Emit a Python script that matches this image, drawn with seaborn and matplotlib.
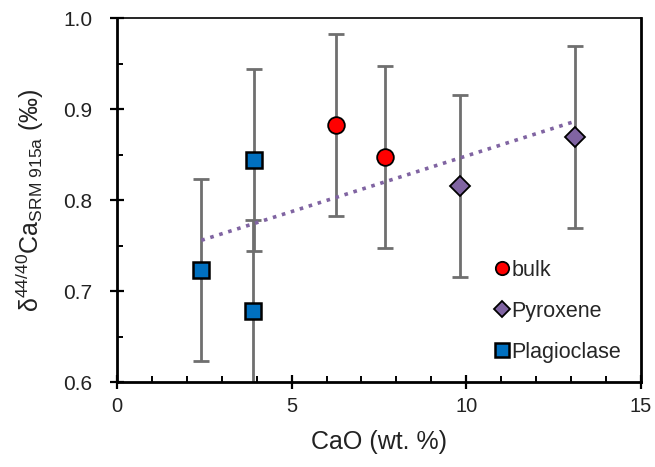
import numpy as np
import pandas as pd
import matplotlib
matplotlib.use('Agg')
import matplotlib.pyplot as plt
from matplotlib.ticker import MultipleLocator, FormatStrFormatter
import seaborn as sns

# δ44/40Ca data
bulk_cao = [6.28, 7.67]
bulk_d44 = [0.883, 0.847]
pyx_cao = [9.83, 13.13]
pyx_d44 = [0.816, 0.869]
plag_cao = [2.41, 3.92, 3.88]
plag_d44 = [0.723, 0.844, 0.678]
err = 0.1  # 2SD

sns.set_theme(style='white')
plt.rcParams['font.family'] = ['Liberation Sans', 'DejaVu Sans']
plt.rcParams['mathtext.fontset'] = 'custom'
plt.rcParams['mathtext.rm'] = 'Liberation Sans'
plt.rcParams['mathtext.it'] = 'Liberation Sans:italic'
plt.rcParams['mathtext.bf'] = 'Liberation Sans:bold'

fig = plt.figure(figsize=(6.55, 4.67), dpi=100)
ax = fig.add_axes([0.179, 0.182, 0.799, 0.779])

df = pd.DataFrame({
    'CaO': bulk_cao + pyx_cao + plag_cao,
    'd44': bulk_d44 + pyx_d44 + plag_d44,
})

# trend line over all points
sns.regplot(data=df, x='CaO', y='d44', ax=ax, scatter=False, ci=None, truncate=True,
            line_kws=dict(color='#8064a2', ls=(0, (1, 1.6)), lw=2.6, zorder=2))

ax.errorbar(df['CaO'], df['d44'], yerr=err, fmt='none', ecolor='#6f6f6f',
            elinewidth=2, capsize=5.5, capthick=2, zorder=1)

ax.plot(bulk_cao, bulk_d44, 'o', ms=12, mfc='#ff0000', mec='black', mew=1.3,
        ls='none', label='bulk', zorder=3)
ax.plot(pyx_cao, pyx_d44, 'D', ms=10, mfc='#8064a2', mec='black', mew=1.3,
        ls='none', label='Pyroxene', zorder=3)
ax.plot(plag_cao, plag_d44, 's', ms=12, mfc='#0070c0', mec='black', mew=1.8,
        ls='none', label='Plagioclase', zorder=3)

ax.set_xlim(0, 15)
ax.set_ylim(0.6, 1.0)
ax.xaxis.set_major_locator(MultipleLocator(5))
ax.xaxis.set_minor_locator(MultipleLocator(1))
ax.yaxis.set_major_locator(MultipleLocator(0.1))
ax.yaxis.set_minor_locator(MultipleLocator(0.05))
ax.yaxis.set_major_formatter(FormatStrFormatter('%.1f'))

ax.tick_params(which='major', direction='inout', length=10, width=1.6, labelsize=15,
               color='black', labelcolor='#222222', bottom=True, left=True)
ax.tick_params(axis='x', which='major', pad=6, labelsize=14.5)
ax.tick_params(axis='y', which='major', pad=13)
ax.tick_params(which='minor', direction='in', length=4.5, width=1.4, color='black',
               bottom=True, left=True)

for side in ['left', 'bottom', 'right']:
    ax.spines[side].set_linewidth(2)
    ax.spines[side].set_color('black')
ax.spines['top'].set_linewidth(1.2)
ax.spines['top'].set_color('black')

ax.set_xlabel('CaO (wt. %)', fontsize=18, color='#222222', labelpad=10)
ax.set_ylabel('δ$^{44/40}$Ca$_{\\mathrm{SRM\\ 915a}}$ (‰)', fontsize=18,
              color='#222222', labelpad=12)

leg = ax.legend(loc='lower right', bbox_to_anchor=(1.0, 0.0), frameon=False,
                fontsize=15.5, markerscale=0.8, handlelength=0.6, handletextpad=0.15,
                labelspacing=0.92, borderaxespad=0.5)

fig.savefig('out.png', dpi=100)
